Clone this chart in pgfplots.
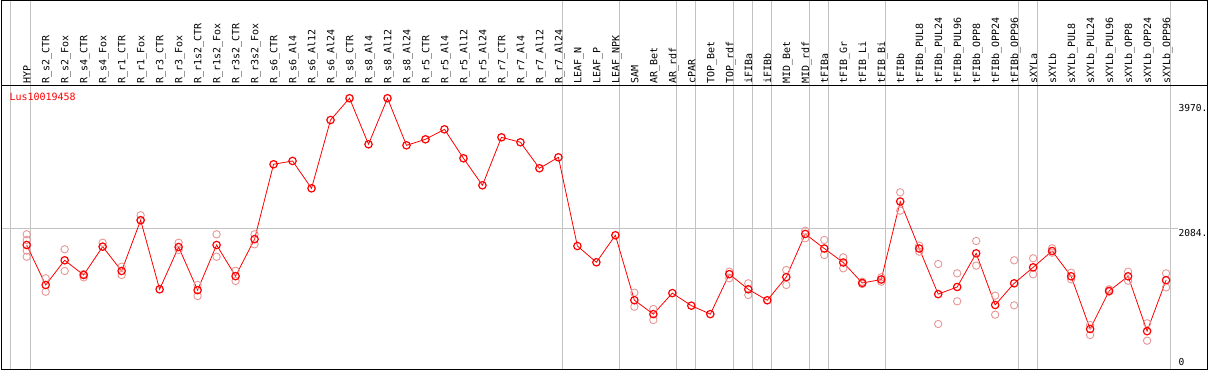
\documentclass[border=0pt]{standalone}
\usepackage{pgfplots}
\pgfplotsset{compat=1.18}
\usepackage{pgfplotstable}
\usepackage{fontspec}
\newfontfamily\monof{DejaVu Sans Mono}
\definecolor{repcol}{RGB}{232,150,150}
\definecolor{gridcol}{RGB}{195,195,195}

\pgfplotstableread{
x y
0 1841
1 1261
2 1619
3 1406
4 1817
5 1464
6 2200
7 1198
8 1812
9 1186
10 1841
11 1389
12 1926
13 3012
14 3060
15 2663
16 3654
17 3970
18 3302
19 3970
20 3287
21 3374
22 3519
23 3099
24 2707
25 3403
26 3331
27 2954
28 3113
29 1826
30 1590
31 1982
32 1040
33 838
34 1143
35 961
36 838
37 1418
38 1198
39 1039
40 1375
41 2001
42 1790
43 1587
44 1290
45 1340
46 2472
47 1790
48 1128
49 1232
50 1720
51 971
52 1285
53 1517
54 1754
55 1387
56 622
57 1174
58 1387
59 591
60 1331
}\means

\pgfplotstableread{
x y
0 1996
0 1914
0 1760
0 1671
1 1358
1 1163
2 1779
2 1464
3 1420
3 1372
4 1874
4 1817
5 1526
5 1406
6 2272
6 2204
8 1874
8 1769
9 1261
9 1101
10 1996
10 1671
11 1468
11 1319
12 1996
12 1851
32 1149
32 946
33 913
33 753
37 1454
37 1358
38 1285
38 1116
40 1478
40 1261
41 2048
41 1938
42 1914
42 1696
43 1662
43 1503
44 1308
44 1275
45 1372
45 1308
46 2605
46 2339
47 1831
47 1744
48 1565
48 695
49 1430
49 1024
50 1899
50 1541
51 1106
51 830
52 1619
52 966
53 1648
53 1416
54 1793
54 1729
55 1439
55 1343
56 680
56 535
57 1198
57 1163
58 1454
58 1323
59 705
59 453
60 1430
60 1227
}\reps

\begin{document}
\begin{tikzpicture}[x=1pt,y=1pt]
\useasboundingbox (0,0) rectangle (1209,370);
% vertical group separators
\draw[gridcol, line width=1pt] (10.7,0.5) -- (10.7,370);
\foreach \g in {0,28,31,34,35,37,38,39,41,42,45,52,53,60}{
  \draw[gridcol, line width=1pt] ({26.7+18.993*(\g+0.22)},0.5) -- ({26.7+18.993*(\g+0.22)},370);
}
\begin{axis}[
  at={(1.7pt,1pt)}, anchor=south west,
  scale only axis, width=1205.8pt, height=284pt,
  xmin=-1.316, xmax=62.18, ymin=42, ymax=4162,
  axis line style={line width=1pt, black},
  xtick=\empty, ytick=\empty,
  clip=false,
]
\draw[gridcol, line width=1pt] (axis cs:-1.316,2084) -- (axis cs:60.63,2084);
\addplot[only marks, mark=o, mark size=3.7pt, draw=repcol, mark options={line width=0.9pt, draw=repcol}] table[x=x,y=y] {\reps};
\addplot[red, line width=0.8pt, mark=o, mark size=3.7pt, mark options={line width=1.2pt, draw=red}] table[x=x,y=y] {\means};
\end{axis}
% outer frame
\draw[black, line width=1pt] (1.7,285) -- (1.7,369.5) -- (1207.5,369.5) -- (1207.5,285);
% series name
\node[anchor=west, inner sep=0pt, font=\monof\fontsize{10}{12}\selectfont, text=red] at (9.3,273.3) {Lus10019458};
% y labels
\node[anchor=west, inner sep=0pt, font=\monof\fontsize{9.6}{12}\selectfont] at (1178.3,262) {3970.};
\node[anchor=west, inner sep=0pt, font=\monof\fontsize{9.6}{12}\selectfont] at (1178.3,136.7) {2084.};
\node[anchor=west, inner sep=0pt, font=\monof\fontsize{9.6}{12}\selectfont] at (1178.3,7.7) {0};
% category labels
\foreach \i/\n in {0/HYP,1/R\_s2\_CTR,2/R\_s2\_Fox,3/R\_s4\_CTR,4/R\_s4\_Fox,5/R\_r1\_CTR,6/R\_r1\_Fox,7/R\_r3\_CTR,8/R\_r3\_Fox,9/R\_r1s2\_CTR,10/R\_r1s2\_Fox,11/R\_r3s2\_CTR,12/R\_r3s2\_Fox,13/R\_s6\_CTR,14/R\_s6\_Al4,15/R\_s6\_Al12,16/R\_s6\_Al24,17/R\_s8\_CTR,18/R\_s8\_Al4,19/R\_s8\_Al12,20/R\_s8\_Al24,21/R\_r5\_CTR,22/R\_r5\_Al4,23/R\_r5\_Al12,24/R\_r5\_Al24,25/R\_r7\_CTR,26/R\_r7\_Al4,27/R\_r7\_Al12,28/R\_r7\_Al24,29/LEAF\_N,30/LEAF\_P,31/LEAF\_NPK,32/SAM,33/AR\_Bet,34/AR\_rdf,35/cPAR,36/TOP\_Bet,37/TOP\_rdf,38/iFIBa,39/iFIBb,40/MID\_Bet,41/MID\_rdf,42/tFIBa,43/tFIB\_Gr,44/tFIB\_Li,45/tFIB\_Bi,46/tFIBb,47/tFIBb\_PUL8,48/tFIBb\_PUL24,49/tFIBb\_PUL96,50/tFIBb\_OPP8,51/tFIBb\_OPP24,52/tFIBb\_OPP96,53/sXYLa,54/sXYLb,55/sXYLb\_PUL8,56/sXYLb\_PUL24,57/sXYLb\_PUL96,58/sXYLb\_OPP8,59/sXYLb\_OPP24,60/sXYLb\_OPP96}{
  \node[rotate=90, anchor=base west, inner sep=0pt, font=\monof\fontsize{10}{12}\selectfont] at ({26.7+18.993*\i+3.8},286.5) {\n};
}
\end{tikzpicture}
\end{document}
